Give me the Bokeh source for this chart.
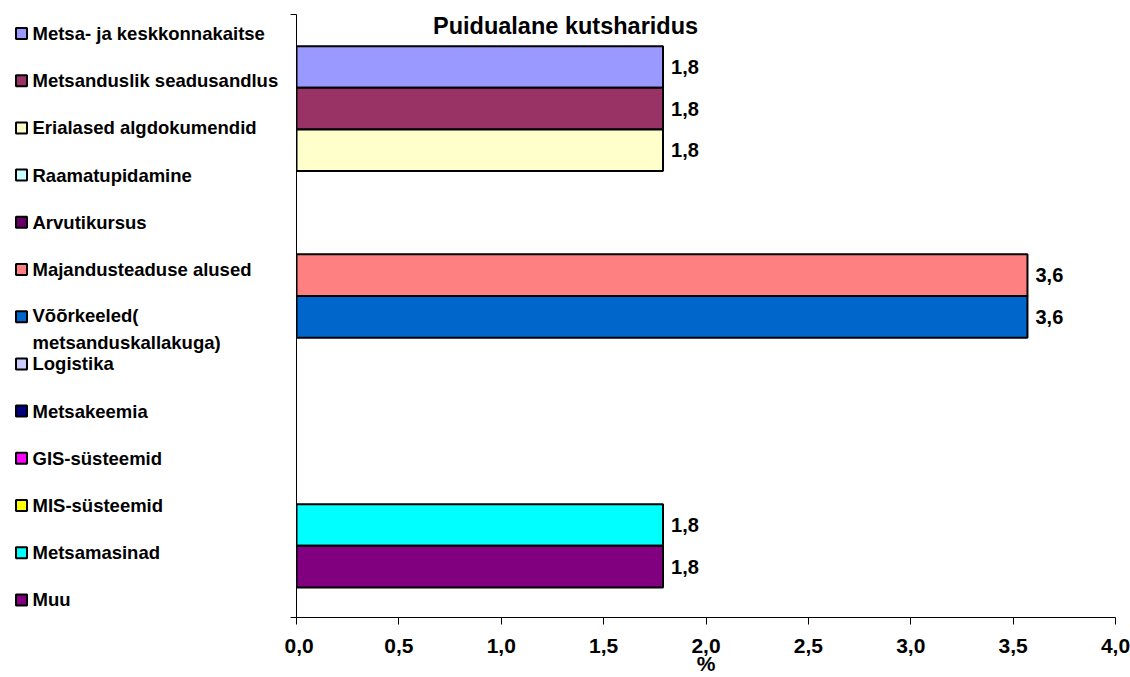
from bokeh.plotting import figure
from bokeh.models import Range1d, FixedTicker, Label, ColumnDataSource
from bokeh.layouts import row
from bokeh.embed import file_html
from bokeh.resources import INLINE
from bokeh.core.properties import value

# ---- data ----
title = "Puidualane kutsharidus"
categories = [
    "Metsa- ja keskkonnakaitse",
    "Metsanduslik seadusandlus",
    "Erialased algdokumendid",
    "Raamatupidamine",
    "Arvutikursus",
    "Majandusteaduse alused",
    "Võõrkeeled(\nmetsanduskallakuga)",
    "Logistika",
    "Metsakeemia",
    "GIS-süsteemid",
    "MIS-süsteemid",
    "Metsamasinad",
    "Muu",
]
values = [1.79, 1.79, 1.79, 0, 0, 3.57, 3.57, 0, 0, 0, 0, 1.79, 1.79]
colors = ["#9999FF", "#993366", "#FFFFCC", "#CCFFFF", "#660066", "#FF8080",
          "#0066CC", "#CCCCFF", "#000080", "#FF00FF", "#FFFF00", "#00FFFF", "#800080"]
x_ticks = [0.0, 0.5, 1.0, 1.5, 2.0, 2.5, 3.0, 3.5, 4.0]
x_tick_labels = ["0,0", "0,5", "1,0", "1,5", "2,0", "2,5", "3,0", "3,5", "4,0"]
x_label = "%"

FONT = "Liberation Sans"
n = len(categories)

# ---- main chart ----
y_lo, y_hi = -1.22, 13.26
p = figure(width=846, height=677, x_range=Range1d(0, 4), y_range=Range1d(y_lo, y_hi),
           output_backend="svg", toolbar_location=None,
           min_border_left=12, min_border_right=15, min_border_top=14, min_border_bottom=60)
p.outline_line_color = None
p.xgrid.visible = False
p.ygrid.visible = False
p.background_fill_color = "white"
p.border_fill_color = "white"

pos = [n - 1 - i for i in range(n)]
nz = [i for i in range(n) if values[i] != 0]
src = ColumnDataSource(dict(
    y=[pos[i] for i in nz],
    v=[values[i] for i in nz],
    c=[colors[i] for i in nz],
    lab=[("%.1f" % values[i]).replace(".", ",") for i in nz],
))
p.hbar(y="y", left=0, right="v", height=1.0, fill_color="c", line_color="black",
       line_width=2, source=src)
p.text(x="v", y="y", text="lab", source=src, x_offset=8, text_align="left",
       text_baseline="middle", text_font=value(FONT), text_font_style="bold",
       text_font_size="20px", text_color="black")

xa = p.xaxis[0]
xa.ticker = FixedTicker(ticks=x_ticks)
xa.major_label_overrides = dict(zip(x_ticks, x_tick_labels))
xa.major_tick_out = 7
xa.major_tick_in = 0
xa.minor_tick_line_color = None
xa.axis_line_color = "black"
xa.major_tick_line_color = "black"
xa.major_label_text_font = FONT
xa.major_label_text_font_style = "bold"
xa.major_label_text_font_size = "21px"
xa.major_label_text_color = "black"
xa.major_label_standoff = 14
xa.axis_label = x_label
xa.axis_label_text_font = FONT
xa.axis_label_text_font_style = "bold"
xa.axis_label_text_font_size = "21px"
xa.axis_label_text_color = "black"
xa.axis_label_standoff = -4

ya = p.yaxis[0]
ya.ticker = FixedTicker(ticks=[y_lo, y_hi])
ya.major_tick_out = 6
ya.major_tick_in = 0
ya.minor_tick_line_color = None
ya.axis_line_color = "black"
ya.major_tick_line_color = "black"
ya.major_label_text_font_size = "0px"
ya.major_label_standoff = 0

p.add_layout(Label(x=1.314, y=12.985, text=title, text_align="center",
                   text_baseline="middle", text_font=FONT, text_font_style="bold",
                   text_font_size="23.5px", text_color="black"))

# ---- legend panel (frame is aligned with the chart frame: page y 14..617) ----
lf = figure(width=284, height=677, x_range=Range1d(0, 284), y_range=Range1d(617, 14),
            x_axis_type=None, y_axis_type=None, min_border=0,
            toolbar_location=None, output_backend="svg")
lf.outline_line_color = None
lf.xgrid.visible = False
lf.ygrid.visible = False

item_y = [33 + 47.2 * i for i in range(n)]
line_px = 18.5 * 1.3
text_y = [item_y[i] + (categories[i].count("\n")) * line_px / 2 for i in range(n)]
lsrc = ColumnDataSource(dict(my=item_y, ty=text_y, c=colors, t=categories))
lf.rect(x=21, y="my", width=11, height=11, fill_color="c", line_color="black",
        line_width=2, source=lsrc)
lf.text(x=32, y="ty", text="t", source=lsrc, text_align="left", text_baseline="middle",
        text_font=value(FONT), text_font_style="bold", text_font_size="18.5px",
        text_line_height=1.3, text_color="black")

layout = row(lf, p)
open("out.html", "w").write(file_html(layout, INLINE))
